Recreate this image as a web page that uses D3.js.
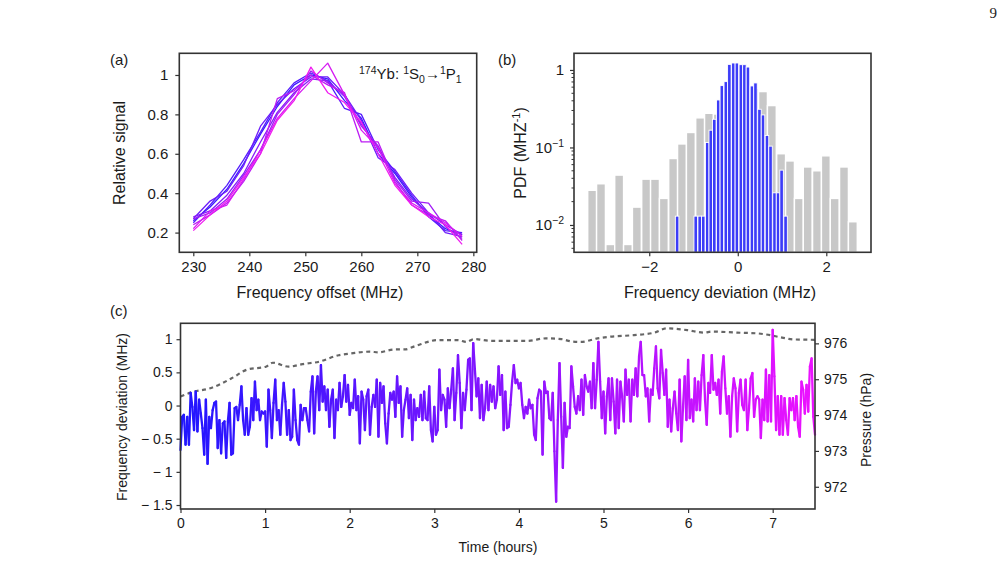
<!DOCTYPE html>
<html>
<head>
<meta charset="utf-8">
<script src="https://cdn.jsdelivr.net/npm/d3@7"></script>
<style>
  body { margin: 0; background: #fff; }
  svg { display: block; }
</style>
</head>
<body>
<script>
const FONT = "'Liberation Sans', Arial, Helvetica, sans-serif";

// ---- panel (a): line scans of the 174Yb 1S0 -> 1P1 line
const aFreq = [230, 233, 236, 239, 242, 245, 248, 251, 254, 257, 260, 263, 266, 269, 272, 275, 278];
const aScans = [
  [0.26, 0.33, 0.42, 0.55, 0.70, 0.84, 0.95, 1.00, 0.98, 0.87, 0.78, 0.60, 0.50, 0.38, 0.29, 0.22, 0.19],
  [0.25, 0.34, 0.44, 0.57, 0.71, 0.86, 0.96, 1.01, 0.97, 0.83, 0.80, 0.62, 0.51, 0.39, 0.28, 0.21, 0.20],
  [0.27, 0.36, 0.41, 0.54, 0.74, 0.85, 0.93, 0.99, 0.99, 0.90, 0.77, 0.58, 0.52, 0.40, 0.30, 0.20, 0.18],
  [0.28, 0.31, 0.39, 0.50, 0.66, 0.81, 0.91, 0.98, 0.97, 0.89, 0.75, 0.63, 0.48, 0.37, 0.30, 0.24, 0.19],
  [0.27, 0.30, 0.37, 0.49, 0.62, 0.80, 0.90, 1.02, 0.96, 0.90, 0.74, 0.64, 0.47, 0.36, 0.35, 0.23, 0.17],
  [0.24, 0.29, 0.35, 0.46, 0.60, 0.88, 0.92, 1.00, 0.95, 0.91, 0.66, 0.66, 0.46, 0.34, 0.29, 0.26, 0.16],
  [0.22, 0.31, 0.34, 0.47, 0.62, 0.78, 0.88, 0.97, 1.06, 0.90, 0.72, 0.63, 0.45, 0.35, 0.30, 0.25, 0.18],
  [0.21, 0.29, 0.36, 0.48, 0.60, 0.77, 0.87, 1.04, 0.91, 0.86, 0.76, 0.60, 0.44, 0.34, 0.28, 0.24, 0.14]
];
const aXTicks = [230, 240, 250, 260, 270, 280];
const aYTicks = [0.2, 0.4, 0.6, 0.8, 1];

// ---- panel (b): histograms of frequency deviation
const grayCenters = [-3.29, -3.09, -2.88, -2.68, -2.48, -2.28, -2.07, -1.87, -1.67, -1.46,
  -1.26, -1.06, -0.85, -0.65, -0.45, -0.24, -0.04, 0.16, 0.37, 0.57,
  0.77, 0.98, 1.18, 1.38, 1.58, 1.79, 1.99, 2.19, 2.40, 2.60];
const grayPdf = [0.028, 0.034, 0.0056, 0.044, 0.0056, 0.017, 0.039, 0.039, 0.022, 0.072,
  0.111, 0.156, 0.241, 0.276, 0.27, 0.45, 0.55, 0.60, 0.58, 0.526,
  0.347, 0.083, 0.067, 0.022, 0.056, 0.050, 0.078, 0.022, 0.056, 0.011];
const blueCenters = [-1.37, -1.29, -1.20, -1.12, -1.03, -0.95, -0.86, -0.78, -0.69, -0.61,
  -0.53, -0.44, -0.36, -0.27, -0.19, -0.10, -0.02, 0.07, 0.15, 0.23,
  0.32, 0.40, 0.49, 0.57, 0.66, 0.74, 0.83, 0.91, 0.99, 1.08];
const bluePdf = [0.013, 0, 0, 0, 0, 0.013, 0.013, 0.013, 0.116, 0.167,
  0.231, 0.41, 0.628, 0.707, 1.18, 1.23, 1.23, 1.17, 1.17, 1.09,
  0.622, 0.68, 0.311, 0.263, 0.143, 0.104, 0.026, 0.026, 0.051, 0.013];
const bXTicks = [-2, 0, 2];
const bYTicks = [0.01, 0.1, 1];

// ---- panel (c): frequency deviation every 0.02 h, and lab pressure
const cStep = 0.02;
const cFreqDev = [
  -0.67, -0.17, -0.14, -0.59, -0.17, -0.59, 0.19, -0.02, -0.37, 0.21,
  -0.39, 0.09, -0.12, -0.34, -0.74, 0.09, -0.88, -0.17, -0.34, -0.07,
  0.04, 0.06, -0.64, -0.22, -0.72, -0.27, -0.24, -0.79, -0.24, 0.04,
  -0.74, -0.72, -0.04, -0.02, -0.22, 0.01, 0.29, -0.22, -0.44, -0.04,
  -0.44, -0.32, 0.11, -0.22, 0.36, -0.07, 0.09, -0.22, -0.09, -0.12,
  -0.09, -0.62, 0.24, -0.07, -0.49, 0.04, 0.39, -0.22, -0.07, -0.44,
  0.01, 0.34, 0.06, -0.44, -0.07, -0.52, -0.47, 0.24, -0.22, -0.52,
  -0.59, 0.01, -0.22, -0.04, -0.04, -0.22, -0.39, 0.21, 0.44, -0.42,
  0.21, 0.44, -0.07, 0.61, 0.06, 0.29, -0.07, 0.24, -0.32, 0.09,
  0.24, -0.49, 0.09, -0.07, 0.34, -0.02,
  0.14, 0.46, 0.06, 0.31, -0.14, 0.04, -0.04, 0.39, -0.07, 0.14,
  -0.57, 0.21, 0.09, -0.37, 0.14, 0.24, -0.44, -0.02, 0.16, -0.02,
  0.39, -0.47, 0.34, 0.04, 0.29, -0.27, -0.57, -0.12, 0.19, 0.09,
  0.21, -0.17, 0.44, 0.04, 0.29, -0.47, -0.07, 0.09, 0.26, -0.19,
  0.16, -0.52, 0.09, -0.22, -0.04, -0.17, 0.16, -0.22, 0.21, -0.19,
  -0.22, 0.29, -0.37, -0.54, -0.02, -0.44, -0.37, 0.54, -0.07, 0.16,
  0.09, -0.32, 0.26, -0.04, 0.24, 0.56, -0.22, 0.19, 0.76, 0.34,
  -0.34, 0.19, -0.07, 0.24, 0.69, 0.71, -0.07, 0.94, 0.54, 0.14,
  0.41, -0.19, 0.31, -0.22, -0.04, 0.36, -0.07, 0.31, 0.06, 0.29,
  -0.04, 0.09, 0.59, 0.16, 0.46,
  -0.37, 0.21, -0.34, -0.32, 0.01, 0.36, 0.61, 0.34, 0.39, 0.26,
  0.34, 0.01, -0.19, -0.02, -0.12, 0.09, -0.04, 0.01, -0.44, -0.52,
  0.11, 0.24, 0.21, -0.74, 0.36, 0.19, 0.21, -0.19, -0.22, 0.19,
  -0.69, -1.45, -0.22, 0.64, -0.17, -0.94, 0.04, -0.47, -0.32, -0.34,
  0.59, 0.29, -0.02, -0.12, 0.14, -0.07, 0.39, -0.14, 0.46, 0.29,
  0.21, 0.36, -0.04, 0.64, -0.04, 0.39, 0.96, 0.36, -0.19, 0.21,
  -0.42, 0.14, 0.41, -0.22, 0.41, 0.06, -0.42, 0.39, -0.34, 0.36,
  0.14, -0.24, 0.54, 0.16, 0.39, -0.24, 0.39, 0.16, 0.56, 0.14,
  0.74, 0.96, 0.46, 0.46, 0.14, 0.26, -0.24, 0.24, 0.16, 0.56,
  0.89, 0.26, 0.11,
  0.84, 0.49, 0.16, 0.54, -0.32, 0.09, -0.39, -0.04, 0.21, -0.12,
  -0.37, 0.39, -0.54, -0.02, 0.44, -0.22, 0.69, -0.19, 0.09, -0.24,
  0.41, -0.07, 0.36, -0.07, 0.46, 0.76, 0.09, -0.29, 0.34, 0.19,
  0.76, 0.24, 0.34, 0.16, 0.39, -0.12, 0.51, 0.74, 0.26, -0.12,
  0.14, -0.47, 0.14, 0.41, 0.26, -0.39, 0.19, 0.39, 0.01, -0.07,
  0.39, -0.37, -0.04, 0.41, 0.49, -0.17, 0.09, 0.14, 0.09, -0.49,
  0.09, -0.22, 0.54, -0.24, 0.46, -0.24, 1.14, 0.44, -0.37, 0.14,
  -0.44, 0.14, -0.44, 0.11, -0.22, -0.44, 0.11, -0.07, 0.11, -0.22,
  0.14, -0.32, -0.47, 0.36, 0.24, -0.12, 0.31, -0.09, 0.59, 0.71,
  -0.17, -0.44
];
const cPressTime = [0.0, 0.15, 0.34, 0.60, 0.79, 1.01, 1.09, 1.28, 1.44, 1.64, 1.87, 2.02, 2.24, 2.34,
  2.53, 2.65, 2.77, 3.04, 3.28, 3.38, 3.47, 3.67, 3.90, 4.10, 4.32, 4.50, 4.63, 4.73, 4.93,
  5.05, 5.36, 5.60, 5.75, 5.99, 6.19, 6.28, 6.58, 6.81, 6.97, 7.09, 7.25, 7.5];
const cPressure = [974.52, 974.65, 974.74, 975.02, 975.27, 975.35, 975.46, 975.35, 975.42, 975.49,
  975.67, 975.72, 975.77, 975.75, 975.83, 975.83, 975.92, 976.09, 976.09, 976.04, 976.12,
  976.07, 976.07, 976.07, 976.14, 976.12, 976.05, 976.04, 976.14, 976.18, 976.23, 976.30,
  976.42, 976.37, 976.30, 976.33, 976.30, 976.28, 976.23, 976.17, 976.11, 976.10];
const cXTicks = [0, 1, 2, 3, 4, 5, 6, 7];
const cYTicks = [-1.5, -1, -0.5, 0, 0.5, 1];
const cPTicks = [972, 973, 974, 975, 976];

const svg = d3.select("body").append("svg")
  .attr("width", 1007).attr("height", 582)
  .style("font-family", FONT);
svg.append("rect").attr("width", 1007).attr("height", 582).attr("fill", "#fff");

function styleAxis(g, size) {
  g.select(".domain").remove();
  g.selectAll(".tick line").attr("stroke", "#333").attr("stroke-width", 1.2);
  g.selectAll(".tick text").attr("fill", "#1a1a1a")
    .style("font-size", (size || 14) + "px").style("font-family", FONT);
}
function frame(x0, y0, x1, y1) {
  svg.append("rect").attr("x", x0).attr("y", y0)
    .attr("width", x1 - x0).attr("height", y1 - y0)
    .attr("fill", "none").attr("stroke", "#333").attr("stroke-width", 1.6);
}
function label(x, y, txt, opts = {}) {
  const t = svg.append("text").attr("x", x).attr("y", y)
    .attr("fill", "#1a1a1a").style("font-size", (opts.size || 14) + "px")
    .attr("text-anchor", opts.anchor || "middle").text(txt);
  if (opts.rotate) t.attr("transform", `rotate(-90,${x},${y})`);
  return t;
}
const minusFmt = d => d < 0 ? "\u2212" + Math.abs(d) : String(d);

// ================= panel (a)
const ax = d3.scaleLinear().domain([227.5, 280.6]).range([179.3, 476.7]);
const ay = d3.scaleLinear().domain([0.1, 1.11]).range([252.3, 53.3]);
const aColor = d3.scaleLinear().domain([0, aScans.length - 1]).range(["#3a1cff", "#f01cf0"]);
const aLine = d3.line().x((d, i) => ax(aFreq[i])).y(d => ay(d));
svg.append("g").selectAll("path").data(aScans).join("path")
  .attr("d", aLine).attr("fill", "none")
  .attr("stroke", (d, i) => aColor(i)).attr("stroke-width", 1.3)
  .attr("stroke-linejoin", "round");
svg.append("g").attr("transform", "translate(0,252.3)")
  .call(d3.axisBottom(ax).tickValues(aXTicks).tickSize(4).tickPadding(5))
  .call(g => styleAxis(g, 15));
svg.append("g").attr("transform", "translate(179.3,0)")
  .call(d3.axisLeft(ay).tickValues(aYTicks).tickSize(4).tickPadding(7).tickFormat(d => d === 1 ? "1" : d.toFixed(1)))
  .call(g => styleAxis(g, 15));
frame(179.3, 53.3, 476.7, 252.3);
label(320, 298, "Frequency offset (MHz)", { size: 16 });
label(125, 153, "Relative signal", { size: 16, rotate: true });
label(110, 65, "(a)", { size: 15, anchor: "start" });
{
  const t = svg.append("text").attr("x", 359).attr("y", 79).attr("fill", "#1a1a1a")
    .style("font-size", "15px");
  t.append("tspan").attr("dy", -5).style("font-size", "10.5px").text("174");
  t.append("tspan").attr("dy", 5).text("Yb: ");
  t.append("tspan").attr("dy", -5).style("font-size", "10.5px").text("1");
  t.append("tspan").attr("dy", 5).text("S");
  t.append("tspan").attr("dy", 4).style("font-size", "10.5px").text("0");
  t.append("tspan").attr("dy", -4).style("font-weight", "bold").text("\u2192");
  t.append("tspan").attr("dy", -5).style("font-size", "10.5px").text("1");
  t.append("tspan").attr("dy", 5).text("P");
  t.append("tspan").attr("dy", 4).style("font-size", "10.5px").text("1");
}

// ================= panel (b)
const bx = d3.scaleLinear().domain([-3.70, 3.01]).range([574, 871]);
const by = d3.scaleLog().domain([0.00444, 1.64]).range([252.3, 53.3]);
const grayW = bx(grayCenters[1]) - bx(grayCenters[0]);
const blueW = bx(blueCenters[1]) - bx(blueCenters[0]);
svg.append("g").selectAll("rect").data(grayCenters).join("rect")
  .attr("x", d => bx(d) - grayW / 2).attr("width", grayW)
  .attr("y", (d, i) => by(grayPdf[i])).attr("height", (d, i) => 252.3 - by(grayPdf[i]))
  .attr("fill", "#c8c8c8").attr("stroke", "#fff").attr("stroke-width", 1.4);
svg.append("g").selectAll("rect").data(blueCenters.filter((d, i) => bluePdf[i] > 0)).join("rect")
  .attr("x", d => bx(d) - blueW / 2).attr("width", blueW)
  .attr("y", d => by(bluePdf[blueCenters.indexOf(d)]))
  .attr("height", d => 252.3 - by(bluePdf[blueCenters.indexOf(d)]))
  .attr("fill", "#3c3cf8").attr("stroke", "#fff").attr("stroke-width", 0.9);
svg.append("g").attr("transform", "translate(0,252.3)")
  .call(d3.axisBottom(bx).tickValues(bXTicks).tickSize(4).tickPadding(5).tickFormat(minusFmt))
  .call(g => styleAxis(g, 15));
const bLeft = svg.append("g").attr("transform", "translate(574,0)")
  .call(d3.axisLeft(by).tickValues(bYTicks).tickSize(4).tickPadding(6).tickFormat(() => ""))
  .call(g => styleAxis(g, 15));
bLeft.selectAll(".tick text").each(function (d) {
  const t = d3.select(this);
  if (d === 1) { t.text("1"); return; }
  const e = Math.round(Math.log10(d));
  t.append("tspan").text("10");
  t.append("tspan").attr("dy", -6).style("font-size", "10.5px").text("\u2212" + Math.abs(e));
});
// minor log ticks
const bMinor = [];
[0.001, 0.01, 0.1].forEach(dec => { for (let k = 2; k <= 9; k++) bMinor.push(dec * k); });
svg.append("g").selectAll("line").data(bMinor.filter(v => v >= 0.00444 && v <= 1.64)).join("line")
  .attr("x1", 574).attr("x2", 571.5).attr("y1", d => by(d)).attr("y2", d => by(d))
  .attr("stroke", "#333").attr("stroke-width", 1);
frame(574, 53.3, 871, 252.3);
label(720, 298, "Frequency deviation (MHz)", { size: 16 });
{
  const t = svg.append("text").attr("x", 526).attr("y", 153).attr("fill", "#1a1a1a")
    .attr("text-anchor", "middle").style("font-size", "16px")
    .attr("transform", "rotate(-90,526,153)");
  t.append("tspan").text("PDF (MHZ");
  t.append("tspan").attr("dy", -6).style("font-size", "11px").text("-1");
  t.append("tspan").attr("dy", 6).text(")");
}
label(498, 65, "(b)", { size: 15, anchor: "start" });

// ================= panel (c)
const cx = d3.scaleLinear().domain([0, 7.5]).range([180.5, 815]);
const cy = d3.scaleLinear().domain([-1.56, 1.24]).range([509, 323.3]);
const cp = d3.scaleLinear().domain([971.38, 976.56]).range([509, 323.3]);
const cColor = d3.scaleLinear().domain([0, 7.5]).range(["#2016ff", "#ec12ff"]);

svg.append("path").datum(cPressTime)
  .attr("d", d3.line().x(d => cx(d)).y((d, i) => cp(cPressure[i])).curve(d3.curveMonotoneX))
  .attr("fill", "none").attr("stroke", "#666").attr("stroke-width", 2.2)
  .attr("stroke-dasharray", "4,3.5");

const cSegs = d3.pairs(cFreqDev.map((v, i) => [i * cStep, v]));
svg.append("g").selectAll("line").data(cSegs).join("line")
  .attr("x1", d => cx(d[0][0])).attr("y1", d => cy(d[0][1]))
  .attr("x2", d => cx(d[1][0])).attr("y2", d => cy(d[1][1]))
  .attr("stroke", d => cColor((d[0][0] + d[1][0]) / 2))
  .attr("stroke-width", 2.3).attr("stroke-linecap", "round");

svg.append("g").attr("transform", "translate(0,509)")
  .call(d3.axisBottom(cx).tickValues(cXTicks).tickSize(4).tickPadding(5))
  .call(g => styleAxis(g, 14));
svg.append("g").attr("transform", "translate(180.5,0)")
  .call(d3.axisLeft(cy).tickValues(cYTicks).tickSize(4).tickPadding(4)
    .tickFormat(d => d < 0 ? "\u2212 " + Math.abs(d) : String(d)))
  .call(g => styleAxis(g, 14));
svg.append("g").attr("transform", "translate(815,0)")
  .call(d3.axisRight(cp).tickValues(cPTicks).tickSize(4).tickPadding(5).tickFormat(d3.format("d")))
  .call(g => styleAxis(g, 14));
frame(180.5, 323.3, 815, 509);
label(498, 552, "Time (hours)", { size: 14 });
label(127, 417, "Frequency deviation (MHz)", { size: 14, rotate: true });
{
  const t = label(871, 420, "Pressure (hPa)", { size: 14 });
  t.attr("transform", "rotate(-90,871,420)");
}
label(110, 316, "(c)", { size: 15, anchor: "start" });

// page number
svg.append("text").attr("x", 997).attr("y", 18).attr("text-anchor", "end")
  .style("font-family", "'Liberation Serif', 'DejaVu Serif', serif")
  .style("font-size", "15px").attr("fill", "#222").text("9");
</script>
</body>
</html>
